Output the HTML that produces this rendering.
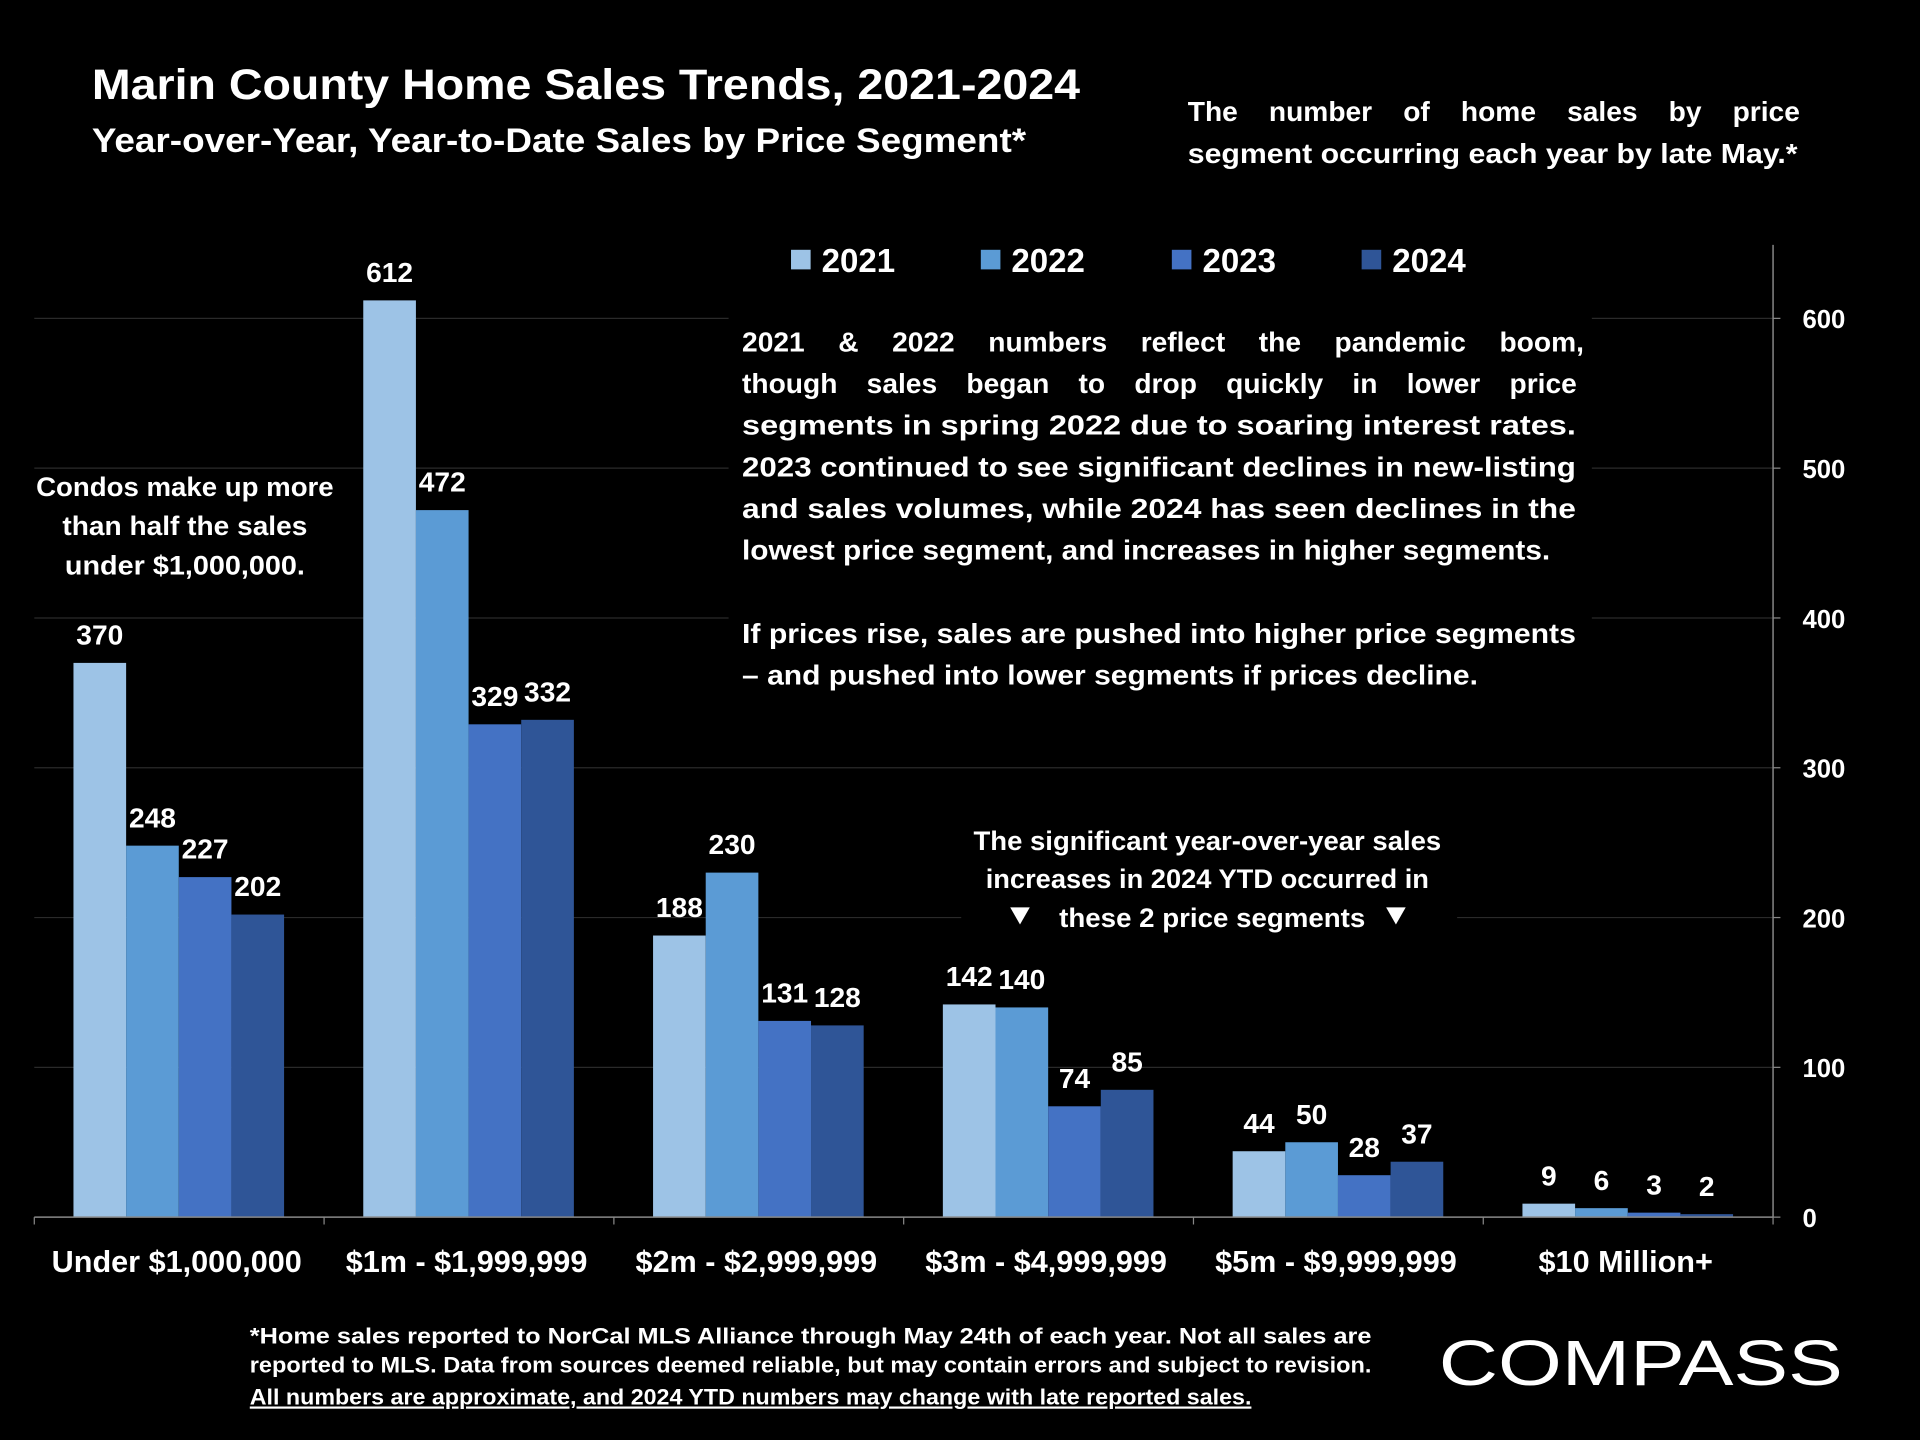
<!DOCTYPE html>
<html><head><meta charset="utf-8"><style>
html,body{margin:0;padding:0;background:#000;}
svg{display:block;}
text{font-family:"Liberation Sans",sans-serif;font-weight:bold;fill:#fff;}
</style></head><body>
<svg id="chart" width="1920" height="1440" viewBox="0 0 1568 1176" xmlns="http://www.w3.org/2000/svg">
<rect width="1568" height="1176" fill="#000"/>
<g id="grid"></g>
<rect x="595" y="255" width="705" height="315" fill="#000"/>
<rect x="785" y="668" width="405" height="100" fill="#000"/>
<g id="bars"></g>
<g id="axes"></g>
<text x="75" y="81" font-size="35" textLength="807" lengthAdjust="spacingAndGlyphs">Marin County Home Sales Trends, 2021-2024</text>
<text x="75" y="124" font-size="28" textLength="763" lengthAdjust="spacingAndGlyphs">Year-over-Year, Year-to-Date Sales by Price Segment*</text>
<text x="970" y="99" font-size="23" word-spacing="19">The number of home sales by price</text>
<text x="970" y="133" font-size="23" textLength="498" lengthAdjust="spacingAndGlyphs">segment occurring each year by late May.*</text>
<g>
<rect x="646" y="204" width="16" height="16" fill="#9dc3e6"/><text x="671" y="222" font-size="27">2021</text>
<rect x="801" y="204" width="16" height="16" fill="#5b9bd5"/><text x="826" y="222" font-size="27">2022</text>
<rect x="957" y="204" width="16" height="16" fill="#4472c4"/><text x="982" y="222" font-size="27">2023</text>
<rect x="1112" y="204" width="16" height="16" fill="#2f5597"/><text x="1137" y="222" font-size="27">2024</text>
</g>
<g font-size="23">
<text x="606" y="287" word-spacing="21">2021 &amp; 2022 numbers reflect the pandemic boom,</text>
<text x="606" y="321" word-spacing="17.5">though sales began to drop quickly in lower price</text>
<text x="606" y="355" textLength="681" lengthAdjust="spacingAndGlyphs">segments in spring 2022 due to soaring interest rates.</text>
<text x="606" y="389" textLength="681" lengthAdjust="spacingAndGlyphs">2023 continued to see significant declines in new-listing</text>
<text x="606" y="423" textLength="681" lengthAdjust="spacingAndGlyphs">and sales volumes, while 2024 has seen declines in the</text>
<text x="606" y="457" textLength="660" lengthAdjust="spacingAndGlyphs">lowest price segment, and increases in higher segments.</text>
<text x="606" y="525" textLength="681" lengthAdjust="spacingAndGlyphs">If prices rise, sales are pushed into higher price segments</text>
<text x="606" y="559" textLength="601" lengthAdjust="spacingAndGlyphs">– and pushed into lower segments if prices decline.</text>
</g>
<g font-size="22" text-anchor="middle">
<text x="151" y="405" textLength="243" lengthAdjust="spacingAndGlyphs">Condos make up more</text>
<text x="151" y="437" textLength="200" lengthAdjust="spacingAndGlyphs">than half the sales</text>
<text x="151" y="469" textLength="196" lengthAdjust="spacingAndGlyphs">under $1,000,000.</text>
</g>
<g font-size="22" text-anchor="middle">
<text x="986" y="694" textLength="382" lengthAdjust="spacingAndGlyphs">The significant year-over-year sales</text>
<text x="986" y="725" textLength="362" lengthAdjust="spacingAndGlyphs">increases in 2024 YTD occurred in</text>
<text x="990" y="757" textLength="250" lengthAdjust="spacingAndGlyphs">these 2 price segments</text>
<polygon points="825,741 841,741 833,755" fill="#fff"/>
<polygon points="1132,741 1148,741 1140,755" fill="#fff"/>
</g>
<g font-size="18">
<text x="204" y="1097" textLength="916" lengthAdjust="spacingAndGlyphs">*Home sales reported to NorCal MLS Alliance through May 24th of each year. Not all sales are</text>
<text x="204" y="1121" textLength="916" lengthAdjust="spacingAndGlyphs">reported to MLS. Data from sources deemed reliable, but may contain errors and subject to revision.</text>
<text x="204" y="1147" textLength="818" lengthAdjust="spacingAndGlyphs" text-decoration="underline">All numbers are approximate, and 2024 YTD numbers may change with late reported sales.</text>
</g>
<text x="1175" y="1131" font-size="52" textLength="330" lengthAdjust="spacingAndGlyphs" style="font-weight:normal">COMPASS</text>
<script>
const categories=["Under $1,000,000","$1m - $1,999,999","$2m - $2,999,999","$3m - $4,999,999","$5m - $9,999,999","$10 Million+"];
const years=["2021","2022","2023","2024"];
const s2021=[370,612,188,142,44,9];
const s2022=[248,472,230,140,50,6];
const s2023=[227,329,131,74,28,3];
const s2024=[202,332,128,85,37,2];
const yTicks=[0,100,200,300,400,500,600];
const series=[s2021,s2022,s2023,s2024];
const colors=["#9dc3e6","#5b9bd5","#4472c4","#2f5597"];
const NS="http://www.w3.org/2000/svg";
const X0=28,X1=1448,Y0=994,Y600=260;
const gw=(X1-X0)/categories.length;
const y=v=>Y0-(Y0-Y600)*v/600;
const xb=(c,s)=>X0+c*gw+32+s*43;
function mk(t,a,p){const e=document.createElementNS(NS,t);for(const k in a)e.setAttribute(k,a[k]);p.appendChild(e);return e;}
const grid=document.getElementById('grid'),bars=document.getElementById('bars'),axes=document.getElementById('axes');
yTicks.forEach(v=>{
 if(v>0){const l=mk('line',{x1:X0,x2:X1,y1:y(v),y2:y(v),stroke:'#2a2a2a','stroke-width':1},grid);
 
 }
 const t=mk('text',{x:1472,y:y(v)+8,'font-size':21},axes);t.textContent=v;
 
 
 mk('line',{x1:X1,x2:X1+6,y1:y(v),y2:y(v),stroke:'#888'},axes);
});
mk('line',{x1:X1,x2:X1,y1:200,y2:Y0,stroke:'#888','stroke-width':1.2},axes);
mk('line',{x1:X0,x2:X1,y1:Y0,y2:Y0,stroke:'#888','stroke-width':1.2},axes);
for(let c=0;c<=categories.length;c++)mk('line',{x1:X0+c*gw,x2:X0+c*gw,y1:Y0,y2:Y0+6,stroke:'#888'},axes);
categories.forEach((name,c)=>{
 const t=mk('text',{x:X0+c*gw+gw/2-2,y:1039,'font-size':25,'text-anchor':'middle'},axes);t.textContent=name;
 
 
 series.forEach((s,i)=>{
  const v=s[c];
  const r=mk('rect',{x:xb(c,i),y:y(v),width:43,height:Y0-y(v),fill:colors[i]},bars);
  
  
  const t2=mk('text',{x:xb(c,i)+21.5,y:y(v)-15,'font-size':23,'text-anchor':'middle'},bars);t2.textContent=v;
  
  
 });
});
</script>
</svg>
</body></html>
